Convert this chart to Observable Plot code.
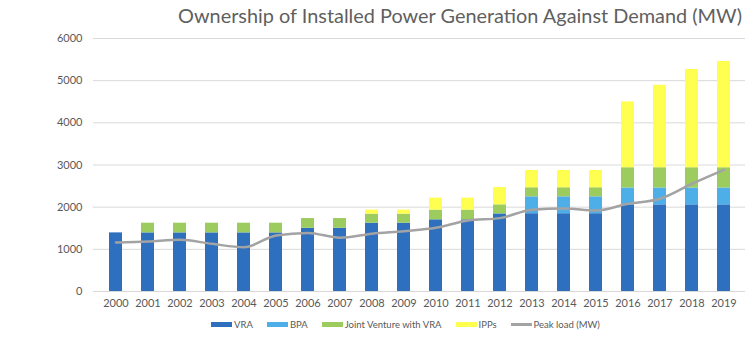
<!DOCTYPE html>
<html>
<head>
<meta charset="utf-8">
<script src="https://cdn.jsdelivr.net/npm/d3@7"></script>
<script src="https://cdn.jsdelivr.net/npm/@observablehq/plot@0.6"></script>
<style>
  body { margin: 0; background: #fff; width: 754px; height: 353px; overflow: hidden; font-family: Lato, sans-serif; }
  #title { height: 30px; line-height: 30px; font-size: 20px; font-weight: 400; color: #5f5f5f; white-space: nowrap; padding-left: 178px; }
  #title span { display: inline-block; transform-origin: left center; }
  #chart svg { display: block; }
  #legend { display: flex; justify-content: center; align-items: center; gap: 14px; font-size: 9.5px; color: #595959; margin-top: 4px; padding-left: 57px; }
  .item { display: flex; align-items: center; gap: 2px; }
  .sw { width: 21px; height: 5px; display: inline-block; }
  .ln { width: 21px; height: 2.5px; display: inline-block; }
</style>
</head>
<body>
<div id="title"><span id="tt">Ownership of Installed Power Generation Against Demand (MW)</span></div>
<div id="chart"></div>
<div id="legend"></div>
<script>
const years = ["2000","2001","2002","2003","2004","2005","2006","2007","2008","2009","2010","2011","2012","2013","2014","2015","2016","2017","2018","2019"];
const vra  = [1390,1390,1390,1390,1390,1390,1500,1500,1620,1620,1700,1700,1840,1845,1845,1845,2055,2055,2055,2055];
const bpa  = [0,0,0,0,0,0,0,0,0,0,0,0,0,400,400,400,400,400,400,400];
const jv   = [0,230,230,230,230,230,230,230,215,215,230,230,215,215,215,215,480,480,480,480];
const ipps = [0,0,0,0,0,0,0,0,95,95,285,285,410,410,410,410,1560,1955,2330,2520];
const peak = [1160,1185,1225,1130,1050,1330,1390,1275,1370,1430,1510,1685,1740,1940,1970,1920,2080,2200,2555,2885];
const seriesNames = ["VRA","BPA","Joint Venture with VRA","IPPs"];
const seriesColors = ["#2E70BE","#4EAEE8","#9CCB5E","#FFFF50"];
const lineName = "Peak load (MW)";
const lineColor = "#A3A3A3";
const yTicks = [0,1000,2000,3000,4000,5000,6000];

const seriesVals = [vra, bpa, jv, ipps];
const bars = [];
years.forEach((y, i) => seriesNames.forEach((s, k) => bars.push({year: y, series: s, value: seriesVals[k][i]})));
const lineData = years.map((y, i) => ({year: y, value: peak[i]}));

const chart = Plot.plot({
  width: 754,
  height: 285,
  marginTop: 8,
  marginBottom: 24,
  marginLeft: 93,
  marginRight: 9,
  style: {fontFamily: "Lato, sans-serif", fontSize: "11px", color: "#595959", background: "#fff"},
  x: {domain: years, paddingInner: 0.6, paddingOuter: 0.3, align: 0.5, label: null, tickSize: 0, tickPadding: 8},
  y: {domain: [0, 6000], ticks: yTicks, label: null, tickSize: 0, tickPadding: 11, tickFormat: d => String(d)},
  color: {domain: seriesNames, range: seriesColors},
  marks: [
    Plot.ruleY(yTicks, {stroke: "#D9D9D9", strokeWidth: 1}),
    Plot.barY(bars, {x: "year", y: "value", fill: "series", order: seriesNames}),
    Plot.line(lineData, {x: "year", y: "value", stroke: lineColor, strokeWidth: 2.5, curve: "monotone-x"})
  ]
});
document.getElementById("chart").appendChild(chart);

// fit title to the reference width
const tt = document.getElementById("tt");
const w = tt.getBoundingClientRect().width;
if (w > 0) tt.style.transform = `scaleX(${564 / w})`;

const legend = document.getElementById("legend");
seriesNames.forEach((s, k) => {
  const it = document.createElement("span");
  it.className = "item";
  it.innerHTML = `<span class="sw" style="background:${seriesColors[k]}"></span><span>${s}</span>`;
  legend.appendChild(it);
});
const it = document.createElement("span");
it.className = "item";
it.innerHTML = `<span class="ln" style="background:${lineColor}"></span><span>${lineName}</span>`;
legend.appendChild(it);
</script>
</body>
</html>
